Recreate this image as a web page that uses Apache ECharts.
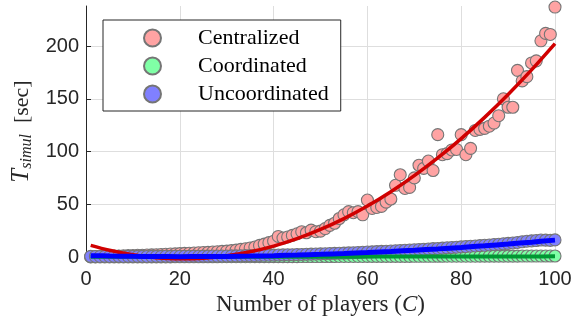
<!DOCTYPE html>
<html>
<head>
<meta charset="utf-8">
<script src="https://cdn.jsdelivr.net/npm/echarts@6/dist/echarts.min.js"></script>
<style>
  html, body { margin: 0; padding: 0; background: #ffffff; }
  #chart { width: 584px; height: 322px; }
</style>
</head>
<body>
<div id="chart"></div>
<script>
// Number of players C
const players = [
  1, 2, 3, 4, 5, 6, 7, 8, 9, 10,
  11, 12, 13, 14, 15, 16, 17, 18, 19, 20,
  21, 22, 23, 24, 25, 26, 27, 28, 29, 30,
  31, 32, 33, 34, 35, 36, 37, 38, 39, 40,
  41, 42, 43, 44, 45, 46, 47, 48, 49, 50,
  51, 52, 53, 54, 55, 56, 57, 58, 59, 60,
  61, 62, 63, 64, 65, 66, 67, 68, 69, 70,
  71, 72, 73, 74, 75, 76, 77, 78, 79, 80,
  81, 82, 83, 84, 85, 86, 87, 88, 89, 90,
  91, 92, 93, 94, 95, 96, 97, 98, 99, 100
];

// Simulation time T_simul [sec] per approach
const centralized = [
  0.3, 0.4, 0.5, 0.6, 0.7, 0.9, 1.0, 1.1, 1.3, 1.4,
  1.6, 1.7, 1.9, 2.0, 2.2, 2.4, 2.6, 2.8, 3.0, 3.2,
  3.4, 3.6, 3.8, 4.0, 4.2, 4.4, 4.7, 5.0, 5.3, 5.6,
  6.0, 6.5, 7.2, 7.8, 8.6, 9.5, 11.0, 12.2, 13.6, 15.0,
  19.5, 18.0, 19.0, 20.5, 22.0, 24.0, 23.0, 25.5, 24.0, 24.5,
  27.0, 30.0, 32.0, 36.5, 40.0, 43.0, 42.0, 43.0, 40.0, 54.0,
  46.0, 47.0, 48.0, 52.0, 55.0, 68.0, 78.0, 65.0, 66.0, 75.0,
  87.0, 84.0, 91.0, 82.0, 116.0, 97.0, 98.0, 101.5, 102.0, 116.0,
  97.0, 103.0, 120.0, 121.0, 122.0, 124.0, 127.0, 134.0, 150.0, 142.0,
  142.0, 177.0, 167.0, 171.0, 184.0, 186.0, 205.0, 212.0, 211.0, 237.0
];

const coordinated = [
  0.05, 0.06, 0.06, 0.07, 0.08, 0.08, 0.09, 0.10, 0.10, 0.11,
  0.12, 0.12, 0.13, 0.14, 0.14, 0.15, 0.16, 0.16, 0.17, 0.18,
  0.19, 0.19, 0.20, 0.21, 0.22, 0.22, 0.23, 0.24, 0.25, 0.26,
  0.27, 0.27, 0.28, 0.29, 0.30, 0.31, 0.32, 0.33, 0.34, 0.35,
  0.36, 0.37, 0.38, 0.39, 0.40, 0.41, 0.42, 0.43, 0.44, 0.45,
  0.46, 0.47, 0.48, 0.49, 0.50, 0.51, 0.52, 0.53, 0.54, 0.55,
  0.56, 0.57, 0.58, 0.59, 0.60, 0.61, 0.62, 0.63, 0.64, 0.65,
  0.66, 0.67, 0.68, 0.69, 0.70, 0.71, 0.72, 0.73, 0.74, 0.75,
  0.76, 0.77, 0.78, 0.79, 0.80, 0.81, 0.82, 0.83, 0.84, 0.85,
  0.86, 0.87, 0.88, 0.89, 0.90, 0.91, 0.92, 0.93, 0.94, 0.95
];

const uncoordinated = [
  0.6, 0.5, 0.5, 0.6, 0.5, 0.6, 0.6, 0.5, 0.6, 0.6,
  0.6, 0.6, 0.5, 0.6, 0.6, 0.6, 0.7, 0.6, 0.7, 0.7,
  0.7, 0.7, 0.8, 0.7, 0.8, 0.8, 0.9, 0.9, 1.0, 1.0,
  1.1, 1.1, 1.2, 1.3, 1.3, 1.4, 1.5, 1.6, 1.7, 1.8,
  1.9, 2.0, 2.1, 2.2, 2.3, 2.4, 2.6, 2.7, 2.8, 3.0,
  3.1, 3.3, 3.4, 3.6, 3.7, 3.9, 4.1, 4.3, 4.5, 4.7,
  4.9, 5.1, 5.3, 5.5, 5.7, 5.9, 6.2, 6.4, 6.6, 6.9,
  7.1, 7.4, 7.6, 7.9, 8.1, 8.4, 8.7, 9.0, 9.3, 9.6,
  9.9, 10.2, 10.5, 10.8, 11.1, 11.4, 11.8, 12.1, 12.5, 12.9,
  13.3, 13.8, 14.4, 15.0, 15.3, 15.6, 16.1, 16.0, 15.8, 16.2
];

// Quadratic fit curves sampled along C
const fitPlayers = [1, 5, 10, 15, 20, 25, 30, 35, 40, 45, 50, 55, 60, 65, 70, 75, 80, 85, 90, 95, 100];
const fitCentralized = [11.0, 6.4, 2.1, -0.6, -1.7, -1.1, 1.1, 4.9, 10.3, 17.4, 26.1, 36.4, 48.3, 61.9, 77.1, 93.9, 112.3, 132.4, 154.1, 177.4, 202.3];
const fitCoordinated = [0.12, 0.13, 0.15, 0.17, 0.19, 0.21, 0.23, 0.25, 0.27, 0.29, 0.31, 0.33, 0.36, 0.39, 0.42, 0.45, 0.48, 0.51, 0.54, 0.57, 0.60];
const fitUncoordinated = [1.30, 0.95, 0.63, 0.43, 0.35, 0.40, 0.57, 0.87, 1.29, 1.83, 2.50, 3.29, 4.21, 5.25, 6.41, 7.70, 9.11, 10.65, 12.31, 14.09, 16.0];

// Axis ticks
const xTicks = [0, 20, 40, 60, 80, 100];
const yTicks = [0, 50, 100, 150, 200];
const yTop = 238;

const pair = (xs, ys) => xs.map((x, i) => [x, ys[i]]);

const tickFont = { fontFamily: 'Liberation Sans, Arial, sans-serif', fontSize: 20, color: '#262626' };
const serif = 'Liberation Serif, Times New Roman, serif';
const gridColor = '#dedede';
const axisColor = '#262626';

function scatter(name, values, fill, z) {
  return {
    type: 'scatter', name: name, data: pair(players, values),
    symbol: 'circle', symbolSize: 12, clip: false, z: z,
    itemStyle: { color: fill, borderColor: '#757575', borderWidth: 1.1, opacity: 1 },
    emphasis: { disabled: true }
  };
}
function fitLine(name, values, color, width, z) {
  return {
    type: 'line', name: name, data: pair(fitPlayers, values),
    smooth: 0.35, showSymbol: false, clip: false, z: z,
    lineStyle: { color: color, width: width },
    emphasis: { disabled: true }
  };
}

const chart = echarts.init(document.getElementById('chart'), null, { renderer: 'canvas' });
chart.setOption({
  animation: false,
  backgroundColor: '#ffffff',
  grid: { left: 86, right: 29, top: 6, bottom: 65, containLabel: false },
  xAxis: {
    type: 'value', min: xTicks[0], max: xTicks[xTicks.length - 1], interval: 20,
    name: 'Number of players ({i|C})', nameLocation: 'middle', nameGap: 28,
    nameTextStyle: {
      fontFamily: serif, fontSize: 23, color: '#262626',
      rich: { i: { fontFamily: serif, fontStyle: 'italic', fontSize: 23, color: '#262626' } }
    },
    axisLine: { show: true, lineStyle: { color: axisColor, width: 1 } },
    axisTick: { show: true, inside: true, length: 5, lineStyle: { color: axisColor } },
    axisLabel: Object.assign({ margin: 12, formatter: v => xTicks.includes(v) ? String(v) : '' }, tickFont),
    splitLine: { show: true, lineStyle: { color: gridColor, width: 1 } }
  },
  yAxis: {
    type: 'value', min: yTicks[0], max: yTop, interval: 50,
    name: '{t|T}{s|simul}{n|  [sec]}', nameLocation: 'middle', nameGap: 48, nameRotate: 90,
    nameTextStyle: {
      color: '#262626',
      rich: {
        t: { fontFamily: serif, fontStyle: 'italic', fontSize: 25, color: '#262626' },
        s: { fontFamily: serif, fontStyle: 'italic', fontSize: 16, color: '#262626', padding: [10, 0, 0, 0] },
        n: { fontFamily: serif, fontSize: 22, color: '#262626' }
      }
    },
    axisLine: { show: true, lineStyle: { color: axisColor, width: 1 } },
    axisTick: { show: true, inside: true, length: 5, lineStyle: { color: axisColor } },
    axisLabel: Object.assign({ margin: 7, showMaxLabel: false, formatter: v => yTicks.includes(v) ? String(v) : '' }, tickFont),
    splitLine: { show: true, lineStyle: { color: [gridColor, gridColor, gridColor, gridColor, gridColor, 'rgba(0,0,0,0)'], width: 1 } }
  },
  legend: {
    show: true, orient: 'vertical', left: 103, top: 20,
    data: ['Centralized', 'Coordinated', 'Uncoordinated'],
    icon: 'circle', itemWidth: 17, itemHeight: 17, itemGap: 6,
    padding: [7, 12, 6, 40],
    backgroundColor: '#ffffff', borderColor: axisColor, borderWidth: 1,
    textStyle: { fontFamily: serif, fontSize: 22, color: '#000000', padding: [0, 0, 0, 32], lineHeight: 21 },
    selectedMode: false
  },
  series: [
    scatter('Centralized', centralized, '#ffa3a3', 2),
    scatter('Coordinated', coordinated, '#80ffa6', 3),
    scatter('Uncoordinated', uncoordinated, '#8080ff', 4),
    fitLine('Centralized fit', fitCentralized, '#d00000', 3.5, 5),
    fitLine('Coordinated fit', fitCoordinated, '#009933', 4, 6),
    fitLine('Uncoordinated fit', fitUncoordinated, '#0000ff', 5, 7)
  ]
});
</script>
</body>
</html>
